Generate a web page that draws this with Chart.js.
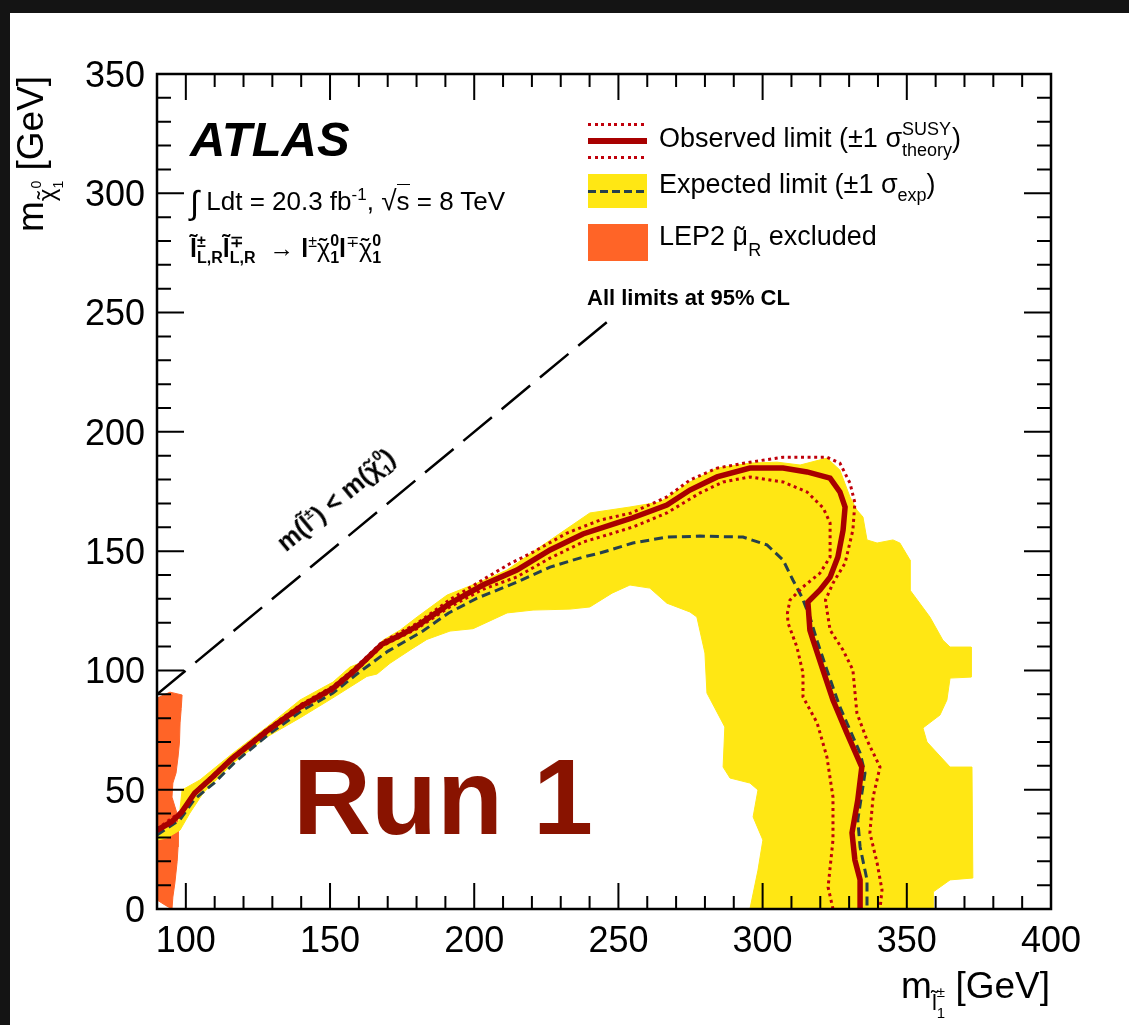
<!DOCTYPE html>
<html>
<head>
<meta charset="utf-8">
<title>Slepton pair production exclusion limits</title>
<script src="https://cdn.jsdelivr.net/npm/chart.js@4.4.1/dist/chart.umd.min.js"></script>
<style>
  html, body { margin: 0; padding: 0; background: #fff; }
  #wrap { position: relative; width: 1129px; height: 1025px; overflow: hidden; background: #fff;
          font-family: "Liberation Sans", Arial, Helvetica, sans-serif; color: #000; }
  #plot { position: absolute; left: 0; top: 0; }
  .bar { position: absolute; background: #141414; }
  .t { position: absolute; white-space: nowrap; line-height: 1; }
  .r { position: relative; }
  .z { display: inline-block; width: 0; position: relative; white-space: nowrap; line-height: 1; }
  .sym { position: absolute; }
  .dots { height: 3px; background: repeating-linear-gradient(90deg, #c0000b 0 3px, transparent 3px 6.6px); }
  .dash { height: 3px; background: repeating-linear-gradient(90deg, #26404b 0 8px, transparent 8px 12px); }
</style>
</head>
<body>
<div id="wrap">
  <canvas id="plot" width="1129" height="1025"></canvas>

  <!-- dark surround -->
  <div class="bar" style="left:0;top:0;width:1129px;height:13px"></div>
  <div class="bar" style="left:0;top:0;width:10px;height:1025px"></div>

  <!-- experiment label and run conditions -->
  <div class="t" style="left:190px;top:115px;font-size:49px;font-weight:bold;font-style:italic">ATLAS</div>
  <div class="t" style="left:190px;top:182px;font-size:26px"><span class="r" style="font-size:33px;top:4px">∫</span> Ldt = 20.3 fb<span class="r" style="font-size:17px;top:-10px">-1</span>, <span style="font-size:28px">√</span><span style="border-top:1.5px solid #000;padding-top:1px">s</span> = 8 TeV</div>
  <div class="t" style="left:190px;top:236px;font-size:25px"><b>l̃</b><span class="z" style="font-size:16px;top:-10px;font-weight:bold">±</span><span class="r" style="font-size:16px;top:6px;font-weight:bold">L,R</span><b>l̃</b><span class="z" style="font-size:16px;top:-10px;font-weight:bold">∓</span><span class="r" style="font-size:16px;top:6px;font-weight:bold">L,R</span> &nbsp;→ <b>l</b><span class="r" style="font-size:16px;top:-10px">±</span><span class="z" style="left:2px;top:-1px">˜</span>χ<span class="z" style="font-size:16px;top:-11px;font-weight:bold">0</span><span class="r" style="font-size:16px;top:6px;font-weight:bold">1</span><b>l</b><span class="r" style="font-size:16px;top:-10px">∓</span><span class="z" style="left:2px;top:-1px">˜</span>χ<span class="z" style="font-size:16px;top:-11px;font-weight:bold">0</span><span class="r" style="font-size:16px;top:6px;font-weight:bold">1</span></div>

  <!-- legend -->
  <div class="sym dots" style="left:588px;top:123px;width:59px"></div>
  <div class="sym" style="left:588px;top:138px;width:59px;height:6px;background:#a80000"></div>
  <div class="sym dots" style="left:588px;top:156px;width:59px"></div>
  <div class="t" style="left:659px;top:125px;font-size:27px">Observed limit (±1 σ<span class="z" style="font-size:18px;top:-12px">SUSY</span><span class="r" style="font-size:18px;top:9px">theory</span>)</div>

  <div class="sym" style="left:588px;top:174px;width:59px;height:34px;background:#ffe714"></div>
  <div class="sym dash" style="left:588px;top:190px;width:59px"></div>
  <div class="t" style="left:659px;top:171px;font-size:27px">Expected limit (±1 σ<span class="r" style="font-size:18px;top:8px">exp</span>)</div>

  <div class="sym" style="left:588px;top:224px;width:60px;height:37px;background:#ff6427"></div>
  <div class="t" style="left:659px;top:223px;font-size:27px">LEP2 <span class="z" style="left:3px;top:1px">˜</span>μ<span class="r" style="font-size:18px;top:11px">R</span> excluded</div>

  <div class="t" style="left:587px;top:287px;font-size:22px;font-weight:bold">All limits at 95% CL</div>

  <!-- kinematic boundary label -->
  <div class="t" style="left:336px;top:500px;font-size:25px;font-weight:bold;transform:translate(-50%,-50%) rotate(-39.6deg)">m(l̃<span class="r" style="font-size:15px;top:-11px">±</span>) &lt; m(<span class="z" style="left:2px;top:-1px">˜</span>χ<span class="z" style="font-size:15px;top:-12px">0</span><span class="r" style="font-size:15px;top:6px">1</span>)</div>

  <!-- run label -->
  <div class="t" style="left:293px;top:743px;font-size:108px;font-weight:bold;color:#891300">Run 1</div>

  <!-- axis titles -->
  <div class="t" style="left:12px;top:232px;font-size:37px;transform-origin:0 0;transform:rotate(-90deg)">m<span class="r" style="font-size:24px;top:12px"><span class="z" style="left:2px;top:-1px">˜</span>χ</span><span class="z" style="font-size:14px;top:-2px">0</span><span class="r" style="font-size:14px;top:20px">1</span> [GeV]</div>
  <div class="t" style="right:79px;top:967px;font-size:37px">m<span class="r" style="font-size:22px;top:12px">l̃</span><span class="z" style="font-size:15px;top:-1px">±</span><span class="r" style="font-size:15px;top:20px">1</span> [GeV]</div>
</div>

<script>
// Axis limits and tick labels
const xRange = [90, 400];
const yRange = [0, 350];
const xTickVals = [100, 150, 200, 250, 300, 350, 400];
const yTickVals = [0, 50, 100, 150, 200, 250, 300, 350];

// Observed limit contour
const obsX = [90, 95, 98.5, 103, 109, 116, 128, 140, 151, 158, 168, 174, 180, 191.5, 203, 214.8, 226.3, 237.7, 249.5, 255, 266.8, 274.8, 284.2, 295.6, 307.1, 315.4, 323.4, 326.8, 328.6, 327.9, 326.1, 323.4, 319.9, 315.7, 316.4, 317.5, 320.9, 324.4, 329.2, 334.4, 333.0, 331.0, 332.0, 333.8, 333.8];
const obsY = [33, 36.5, 40.5, 48.5, 55, 63, 74.5, 85, 92.5, 99.5, 111, 114.5, 118.5, 128, 135.8, 142.1, 150.5, 157.2, 161.8, 164, 169.3, 175.6, 181.1, 184.8, 184.8, 183.2, 180.6, 174.8, 168.5, 158.8, 147.5, 139.1, 133.7, 128.7, 116.9, 112.7, 100.2, 87.6, 73.8, 59.5, 45.7, 31.9, 20.5, 12.2, 0];

// Observed limit, +1 sigma theory
const obsUpX = [90, 98.5, 103, 109, 116, 128, 140, 151, 158, 168, 180, 191.5, 203, 212, 220.4, 232.2, 243.6, 254.5, 266.8, 274.8, 284.2, 295.6, 307.1, 322.3, 326.8, 330.3, 332.0, 331.3, 328.6, 324.4, 321.8, 322.3, 323.4, 327.9, 331.3, 332.7, 336.2, 340.7, 338.3, 337.2, 339.7, 341.4, 340.7];
const obsUpY = [33.5, 41, 49, 55.6, 63.6, 75.2, 85.8, 93.3, 100.3, 111.8, 119.6, 129.6, 138, 144.5, 149.6, 157.6, 163, 166, 172.7, 179.8, 184.8, 187.3, 189.4, 189.4, 186.9, 178.5, 170.2, 158.8, 145, 136.6, 129.5, 125.3, 116.9, 108.5, 100.2, 82.1, 70.8, 59.5, 46.9, 31.9, 19.3, 8, 0];

// Observed limit, -1 sigma theory
const obsDnX = [90, 98.5, 103, 109, 116, 128, 140, 151, 158, 168, 180, 191.5, 203, 214.8, 226.3, 237.7, 243.6, 255, 266.8, 278.3, 286.3, 295.6, 307.1, 315.4, 321.0, 323.4, 323.4, 319.9, 314.0, 309.5, 308.6, 308.8, 311.9, 314.0, 314.0, 318.9, 322.3, 324.4, 324.4, 322.7, 324.4];
const obsDnY = [32.5, 40, 48, 54.4, 62.4, 73.8, 84.2, 91.7, 98.7, 110.2, 117.4, 126.6, 134, 139.2, 147.1, 153.8, 155.9, 160.1, 166, 174.4, 179, 181.1, 179, 174.8, 168.1, 161.8, 147.5, 140.8, 135, 129.5, 124, 119.9, 109.8, 98.9, 88.9, 78, 63.7, 46.9, 28.9, 9.2, 0];

// Expected limit contour
const expX = [90, 98, 103, 110, 117, 128, 140, 151, 159.3, 170, 182.2, 191, 201, 214.8, 226.3, 237.7, 243.6, 255, 266.8, 278.3, 293.2, 301.5, 307.1, 310.5, 313.6, 316.5, 319, 322.3, 326.8, 333.8, 335.5, 333.0, 333.8, 336.2, 336.2];
const expY = [31, 37.5, 46, 53, 61.5, 72.5, 83, 90.5, 98.5, 108, 116.5, 124, 130.3, 137, 143.3, 147.5, 149.2, 153.4, 155.9, 156.3, 155.9, 152.6, 146.3, 137.9, 130.8, 122, 112, 100.2, 84.7, 65.4, 57, 37.3, 26, 12.2, 0];

// Expected limit +-1 sigma band outline
const bandX = [90, 97.5, 98.7, 104.9, 116.4, 128.1, 139.6, 151.0, 156.9, 160.4, 168.4, 174.3, 180.2, 190.6, 201.0, 211.4, 222.8, 240.1, 254.0, 264.4, 274.8, 284.2, 295.6, 305.0, 313.0, 322.3, 326.8, 330.3, 332.7, 334.8, 336.2, 339.7, 345.2, 347.6, 351.1, 351.1, 358.0, 362.5, 365.0, 372.3, 372.3, 365.0, 363.9, 361.5, 355.6, 357.0, 365.0, 372.6, 372.9, 365.0, 359.1, 359.1, 295.6, 298.4, 300.1, 296.7, 298.4, 295.6, 288.7, 286.3, 286.9, 280.7, 280.0, 277.2, 274.8, 266.8, 260.9, 254.0, 247.8, 240.1, 233.2, 220.4, 211.4, 199.6, 191.6, 183.6, 177.7, 170.8, 166.3, 162.8, 151.0, 139.6, 128.1, 116.4, 106.0, 101.4, 98.0, 93.5, 90];
const bandY = [32, 36.5, 49.9, 54.1, 65.4, 76.3, 87.6, 95.1, 101.4, 103.1, 112.7, 116.9, 122.4, 131.6, 136.6, 142.1, 151.7, 166.0, 168.5, 170.6, 179.0, 184.8, 186.9, 187.3, 186.1, 189.0, 184.0, 172.7, 167.2, 164.3, 154.7, 153.4, 154.7, 153.4, 146.3, 133.7, 122.4, 112.7, 109.8, 109.8, 97.2, 96.8, 87.6, 81.3, 75.9, 70.0, 59.5, 59.5, 13.0, 12.2, 7.1, 0, 0, 16.3, 28.9, 38.6, 49.9, 52.8, 54.9, 59.5, 76.3, 90.5, 107.3, 122.4, 124.5, 128.2, 134.5, 135.8, 132.4, 126.6, 125.7, 125.3, 124.1, 117.5, 116.5, 113.0, 108.5, 103.0, 98.5, 97.5, 88.5, 80.1, 72.1, 61.2, 48.6, 40.2, 33.1, 29.8, 28.9];

// LEP2 smuon exclusion outline
const lepX = [90, 94.5, 98.7, 98.4, 98.0, 97.8, 97.3, 96.6, 95.5, 95.2, 96.9, 97.4, 97.3, 97.0, 96.2, 95.5, 95.2, 93, 90];
const lepY = [88.4, 90.9, 89.7, 84, 78, 70, 63.7, 57, 52.8, 46.9, 40.2, 33, 26, 20, 10.9, 5, 0, 1.5, 3.8];

// Kinematic boundary m(slepton) = m(neutralino)
const kinX = [90, 246];
const kinY = [90, 246];

const pts = (xs, ys) => xs.map((x, i) => ({x, y: ys[i]}));

// Frame with inward major/minor tick marks on all four sides
const majorStep = 50, minorStep = 10;
const axisFrame = {
  id: 'axisFrame',
  afterDatasetsDraw(chart) {
    const {ctx, chartArea: a} = chart;
    const xs = chart.scales.x, ys = chart.scales.y;
    ctx.save();
    ctx.strokeStyle = '#000';
    ctx.lineWidth = 2;
    ctx.beginPath();
    for (let v = xRange[0]; v <= xRange[1]; v += minorStep) {
      const p = xs.getPixelForValue(v);
      const len = v % majorStep === 0 ? 26 : 13;
      ctx.moveTo(p, a.bottom); ctx.lineTo(p, a.bottom - len);
      ctx.moveTo(p, a.top); ctx.lineTo(p, a.top + len);
    }
    for (let v = yRange[0]; v <= yRange[1]; v += minorStep) {
      const p = ys.getPixelForValue(v);
      const len = v % majorStep === 0 ? 27 : 14;
      ctx.moveTo(a.left, p); ctx.lineTo(a.left + len, p);
      ctx.moveTo(a.right, p); ctx.lineTo(a.right - len, p);
    }
    ctx.stroke();
    ctx.lineWidth = 2.5;
    ctx.strokeRect(a.left, a.top, a.right - a.left, a.bottom - a.top);
    ctx.restore();
  }
};

const tickFont = {family: '"Liberation Sans", Arial, sans-serif', size: 36};

new Chart(document.getElementById('plot'), {
  type: 'scatter',
  data: {
    datasets: [
      {label: 'Observed limit', data: pts(obsX, obsY), showLine: true, order: 0,
       borderColor: '#a80000', borderWidth: 5.5, pointRadius: 0, fill: false},
      {label: 'Observed +1 sigma', data: pts(obsUpX, obsUpY), showLine: true, order: 1,
       borderColor: '#c0000b', borderWidth: 3, borderDash: [3, 3.6], pointRadius: 0, fill: false},
      {label: 'Observed -1 sigma', data: pts(obsDnX, obsDnY), showLine: true, order: 1,
       borderColor: '#c0000b', borderWidth: 3, borderDash: [3, 3.6], pointRadius: 0, fill: false},
      {label: 'Expected limit', data: pts(expX, expY), showLine: true, order: 2,
       borderColor: '#26404b', borderWidth: 3, borderDash: [9, 5], pointRadius: 0, fill: false},
      {label: 'Kinematic limit', data: pts(kinX, kinY), showLine: true, order: 3,
       borderColor: '#000', borderWidth: 2.5, borderDash: [37, 12.7], pointRadius: 0, fill: false},
      {label: 'Expected band', data: pts(bandX, bandY), showLine: true, order: 5,
       borderColor: '#ffe714', borderWidth: 1, backgroundColor: '#ffe714', pointRadius: 0, fill: 'shape'},
      {label: 'LEP2 excluded', data: pts(lepX, lepY), showLine: true, order: 6,
       borderColor: '#ff6427', borderWidth: 1, backgroundColor: '#ff6427', pointRadius: 0, fill: 'shape'}
    ]
  },
  options: {
    responsive: false,
    animation: false,
    events: [],
    layout: {padding: {top: 74, right: 78, left: 0, bottom: 0}},
    plugins: {legend: {display: false}, tooltip: {enabled: false}},
    scales: {
      x: {
        type: 'linear', position: 'bottom', min: xRange[0], max: xRange[1],
        afterBuildTicks: s => { s.ticks = xTickVals.map(v => ({value: v})); },
        afterFit: s => { s.height = 116; },
        grid: {display: false, drawTicks: false},
        border: {display: false},
        ticks: {font: tickFont, color: '#000', padding: 11, maxRotation: 0, autoSkip: false}
      },
      y: {
        type: 'linear', position: 'left', min: yRange[0], max: yRange[1],
        afterBuildTicks: s => { s.ticks = yTickVals.map(v => ({value: v})); },
        afterFit: s => { s.width = 157; },
        grid: {display: false, drawTicks: false},
        border: {display: false},
        ticks: {font: tickFont, color: '#000', padding: 12, labelOffset: 3, autoSkip: false}
      }
    }
  },
  plugins: [axisFrame]
});
</script>
</body>
</html>
